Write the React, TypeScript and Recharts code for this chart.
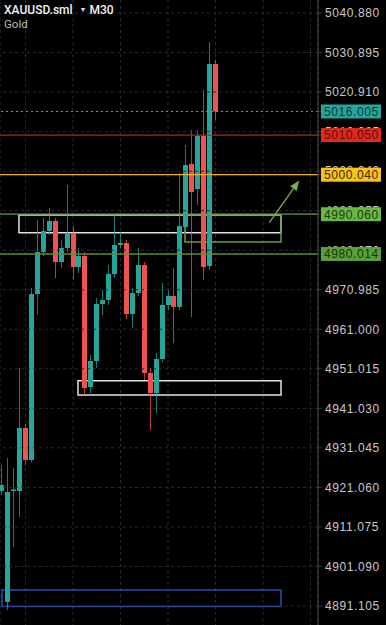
import React from 'react';
import {
  ComposedChart,
  Bar,
  XAxis,
  YAxis,
  CartesianGrid,
  ReferenceLine,
  ReferenceArea,
} from 'recharts';

// ---- data ----
const opens = [4920.15, 4892.12, 4920.40, 4920.15, 4936.06, 4927.98, 4969.90, 4980.51, 4985.81, 4988.34, 4977.98, 4981.52, 4985.31, 4976.72, 4979.50, 4946.41, 4952.98, 4967.38, 4968.39, 4974.95, 4982.28, 4982.78, 4964.85, 4970.15, 4977.23, 4949.95, 4944.90, 4953.49, 4967.13, 4969.40, 4966.64, 4986.82, 5002.73, 4996.42, 5009.81, 4976.97, 5027.99];
const closes = [4921.67, 4919.90, 4920.55, 4936.06, 4927.98, 4969.90, 4980.51, 4985.81, 4988.34, 4977.98, 4981.52, 4985.31, 4976.72, 4979.50, 4946.16, 4952.98, 4967.38, 4968.39, 4974.95, 4982.28, 4982.78, 4964.85, 4970.15, 4977.23, 4949.95, 4944.90, 4953.49, 4967.13, 4969.40, 4966.64, 4987.07, 5002.48, 4995.67, 5009.81, 4976.72, 5027.99, 5016.005];
const highs = [4926.72, 4928.48, 4925.96, 4951.21, 4937.07, 4971.42, 4988.59, 4989.10, 4991.62, 4989.10, 4983.54, 4997.43, 4987.08, 4981.52, 4980.51, 4954.50, 4968.89, 4970.91, 4977.23, 4989.85, 4985.56, 4983.54, 4971.42, 4981.52, 4977.98, 4951.21, 4955.00, 4972.68, 4970.91, 4976.47, 5000.46, 5007.53, 5011.32, 5011.32, 5021.43, 5033.55, 5029.00];
const lows = [4919.14, 4890.10, 4906.00, 4913.58, 4926.72, 4927.47, 4964.60, 4979.50, 4984.80, 4973.94, 4976.47, 4980.51, 4973.44, 4975.20, 4944.39, 4944.90, 4951.21, 4964.60, 4967.13, 4973.94, 4981.52, 4963.60, 4961.32, 4969.40, 4948.18, 4935.56, 4939.85, 4952.73, 4965.85, 4957.53, 4965.85, 4985.56, 4964.10, 4992.38, 4973.44, 4975.96, 5013.85];

const yTicks = [4891.105, 4901.090, 4911.075, 4921.060, 4931.045, 4941.030, 4951.015, 4961.000, 4970.985, 4980.970, 4990.955, 5000.940, 5010.925, 5020.910, 5030.895, 5040.880];
const xGridTicks = [4, 12, 20, 28, 36, 44, 52];

const levelPrices = [5016.005, 5010.050, 5000.040, 4990.060, 4980.014];
const levelLabels = ['5016.005', '5010.050', '5000.040', '4990.060', '4980.014'];

// zones in (bar index, price) units
const zoneX1 = [2.9, 12.84, 30.86, 0.04];
const zoneX2 = [47.03, 47.03, 47.03, 47.03];
const zoneY1 = [4985.4, 4944.4, 4983.05, 4890.98];
const zoneY2 = [4989.87, 4948.0, 4989.9, 4895.15];

const arrowFrom = { x: 45.06, y: 4987.95 };
const arrowTo = { x: 50.11, y: 4998.56 };

// ---- styles ----
const TEAL = '#26a69a';
const RED = '#ef5350';
const GRID = '#2c2c2c';
const levelLine = ['#8a8a8a', '#a8261e', '#eeb021', '#6d9a45', '#5d8c3a'];
const levelDash = ['2 3', undefined, undefined, undefined, undefined];
const tagBg = ['#25a59c', '#e0281c', '#f7c31c', '#68b843', '#5a9f3a'];
const tagFg = ['#0d3a36', '#5a0c07', '#3a2b00', '#1b3a0e', '#19340c'];
const zoneStroke = ['#e2e2e2', '#e2e2e2', '#6d9a45', '#2a4db0'];
const AXIS_FONT = '"Liberation Sans", Arial, sans-serif';

const data = opens.map((o, i) => ({
  i,
  open: o,
  close: closes[i],
  high: highs[i],
  low: lows[i],
}));

// tick values: plain ticks first, level tags last so they paint on top
const axisTicks = [...yTicks, ...levelPrices];

const Candle = (props: any) => {
  const { x, y, width, height, payload } = props;
  if (x == null || y == null || !payload) return null;
  const top = Math.min(y, y + height);
  const bot = Math.max(y, y + height);
  const { open, close, high, low } = payload;
  const span = high - low || 1;
  const k = (bot - top) / span;
  const py = (v: number) => top + (high - v) * k;
  const cx = Math.round(x + width / 2) + 0.5;
  const up = close >= open;
  const color = up ? TEAL : RED;
  const bt = py(Math.max(open, close));
  const bb = py(Math.min(open, close));
  return (
    <g>
      <line x1={cx} x2={cx} y1={top} y2={bot} stroke={color} strokeOpacity={0.75} strokeWidth={1} />
      <rect x={cx - 2.5} y={bt} width={5} height={Math.max(1.5, bb - bt)} fill={color} />
    </g>
  );
};

const AxisTick = (props: any) => {
  const { x, y, payload } = props;
  if (x == null || y == null || !payload) return null;
  const v = payload.value;
  const k = levelPrices.findIndex((p) => Math.abs(p - v) < 1e-6);
  if (k >= 0) {
    return (
      <g>
        <rect x={x - 3} y={y - 7} width={60} height={14} fill={tagBg[k]} />
        <text
          x={x}
          y={y}
          dy="0.36em"
          fill={tagFg[k]}
          fontSize={12}
          letterSpacing={0.6}
          fontFamily={AXIS_FONT}
          textAnchor="start"
        >
          {levelLabels[k]}
        </text>
      </g>
    );
  }
  return (
    <text
      x={x + 1}
      y={y}
      dy="0.36em"
      fill="#c8c8c8"
      fontSize={12}
      letterSpacing={0.6}
      fontFamily={AXIS_FONT}
      textAnchor="start"
    >
      {Number(v).toFixed(3)}
    </text>
  );
};

const ArrowShape = (props: any) => {
  const { x1, y1, x2, y2 } = props;
  if ([x1, y1, x2, y2].some((v) => v == null || isNaN(v))) return null;
  const dx = x2 - x1;
  const dy = y2 - y1;
  const len = Math.sqrt(dx * dx + dy * dy);
  const ux = dx / len;
  const uy = dy / len;
  const hl = 10;
  const hw = 4;
  const bx = x2 - ux * hl;
  const by = y2 - uy * hl;
  const px = -uy;
  const py = ux;
  return (
    <g>
      <line x1={x1} y1={y1} x2={bx} y2={by} stroke="#78b04a" strokeWidth={1.3} />
      <polygon
        points={`${x2},${y2} ${bx + px * hw},${by + py * hw} ${bx - px * hw},${by - py * hw}`}
        fill="#78b04a"
      />
    </g>
  );
};

export default function App() {
  return (
    <div
      style={{
        position: 'fixed',
        left: 0,
        top: 0,
        width: 386,
        height: 625,
        background: '#000',
        overflow: 'hidden',
      }}
    >
      <ComposedChart
        width={386}
        height={625}
        data={data}
        margin={{ top: 0, right: 0, bottom: 0, left: 0 }}
      >
        <CartesianGrid stroke={GRID} strokeDasharray="3 3" horizontal={false} />
        <XAxis
          dataKey="i"
          type="number"
          domain={[-0.295, 53.263]}
          ticks={xGridTicks}
          allowDataOverflow
          hide
        />
        <YAxis
          orientation="right"
          type="number"
          width={68}
          domain={[4886.306, 5044.163]}
          allowDataOverflow
          ticks={axisTicks}
          interval={0}
          tick={<AxisTick />}
          tickSize={4}
          tickMargin={2}
          tickLine={{ stroke: '#3a3a3a' }}
          axisLine={{ stroke: '#4a4a4a' }}
        />
        {yTicks.map((t) => (
          <ReferenceLine
            key={'grid' + t}
            y={t}
            stroke={GRID}
            strokeDasharray="3 3"
            ifOverflow="visible"
          />
        ))}
        {levelPrices.map((p, k) => (
          <ReferenceLine
            key={'lvl' + k}
            y={p}
            stroke={levelLine[k]}
            strokeWidth={k === 0 ? 1 : 1.3}
            strokeDasharray={levelDash[k]}
            ifOverflow="visible"
          />
        ))}
        <Bar
          dataKey={(d: any) => [d.low, d.high]}
          barSize={5}
          shape={Candle}
          isAnimationActive={false}
        />
        {zoneX1.map((x1, k) => (
          <ReferenceArea
            key={'zone' + k}
            x1={x1}
            x2={zoneX2[k]}
            y1={zoneY1[k]}
            y2={zoneY2[k]}
            fill="none"
            fillOpacity={0}
            stroke={zoneStroke[k]}
            strokeWidth={1.5}
            ifOverflow="visible"
          />
        ))}
        <ReferenceLine
          segment={[arrowFrom, arrowTo]}
          shape={ArrowShape}
          ifOverflow="visible"
        />
      </ComposedChart>
      <div
        style={{
          position: 'absolute',
          left: 4,
          top: 3,
          fontFamily: 'Roboto, "Liberation Sans", sans-serif',
          fontSize: 12,
          fontWeight: 500,
          color: '#f2f2f2',
          lineHeight: '14px',
          whiteSpace: 'nowrap',
        }}
      >
        XAUUSD.sml <span style={{ fontSize: 7, color: '#ddd', margin: '0 3px 0 4px', verticalAlign: 2 }}>▼</span>M30
      </div>
      <div
        style={{
          position: 'absolute',
          left: 4,
          top: 17,
          fontFamily: 'Roboto, "Liberation Sans", sans-serif',
          fontSize: 11.5,
          color: '#bdbdbd',
          lineHeight: '14px',
        }}
      >
        Gold
      </div>
    </div>
  );
}
